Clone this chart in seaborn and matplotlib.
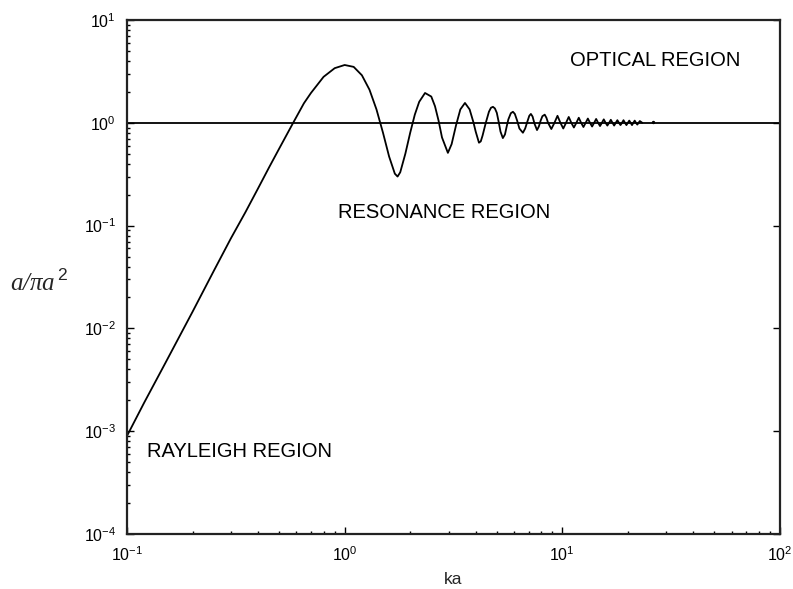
import matplotlib
matplotlib.use("Agg")
import matplotlib.pyplot as plt
import seaborn as sns
import pandas as pd
from matplotlib.ticker import LogLocator, NullFormatter

# ---- data ----
ka = [0.10, 0.12, 0.15, 0.20, 0.25, 0.30, 0.35, 0.40, 0.45, 0.50, 0.58, 0.65, 0.70,
      0.80, 0.90, 1.00, 1.10, 1.20, 1.30, 1.40, 1.50, 1.60, 1.70, 1.75, 1.80, 1.90,
      2.00, 2.10, 2.20, 2.34, 2.50, 2.60, 2.70, 2.80, 2.98, 3.10, 3.25, 3.40, 3.57,
      3.75, 3.90, 4.00, 4.14, 4.22, 4.30, 4.45, 4.60, 4.70, 4.80, 4.90, 5.00, 5.10,
      5.20, 5.33, 5.45, 5.55, 5.65, 5.80, 5.93, 6.05, 6.20, 6.35, 6.59, 6.75, 6.90,
      7.05, 7.17, 7.30, 7.45, 7.65, 7.80, 7.95, 8.10, 8.30, 8.45, 8.60,
      8.90, 9.20, 9.50, 9.80, 10.1, 10.4, 10.7, 11.0, 11.3, 11.6, 11.9, 12.2,
      12.5, 12.8, 13.1, 13.4, 13.7, 14.0, 14.3, 14.6, 14.9, 15.2, 15.5, 15.8, 16.1,
      16.4, 16.7, 17.0, 17.3, 17.6, 17.9, 18.2, 18.5, 18.8, 19.1, 19.4, 19.7, 20.0,
      20.3, 20.6, 20.9, 21.2, 21.5, 21.8, 22.1, 22.4, 22.7, 23.3]
rcs = [0.0009, 0.0019, 0.0046, 0.0145, 0.036, 0.075, 0.135, 0.23, 0.37, 0.56, 1.00,
       1.55, 1.95, 2.80, 3.40, 3.65, 3.50, 2.90, 2.10, 1.35, 0.80, 0.47, 0.32, 0.30,
       0.33, 0.50, 0.80, 1.20, 1.60, 1.95, 1.80, 1.45, 1.05, 0.72, 0.51, 0.62, 0.95,
       1.35, 1.56, 1.35, 1.02, 0.82, 0.64, 0.66, 0.75, 1.00, 1.28, 1.40, 1.43, 1.38,
       1.25, 1.02, 0.82, 0.71, 0.77, 0.92, 1.08, 1.24, 1.28, 1.22, 1.05, 0.88, 0.80,
       0.88, 1.02, 1.17, 1.22, 1.15, 0.98, 0.85, 0.92, 1.05, 1.16, 1.20, 1.12, 1.00,
       0.87, 1.00, 1.17, 1.00, 0.88, 1.00, 1.14, 1.00, 0.90, 1.00,
       1.12, 1.00, 0.91, 1.00, 1.10, 1.00, 0.92, 1.00, 1.09, 1.00, 0.93, 1.00, 1.08,
       1.00, 0.94, 1.00, 1.07, 1.00, 0.94, 1.00, 1.06, 1.00, 0.95, 1.00, 1.06, 1.00,
       0.95, 1.00, 1.05, 1.00, 0.95, 1.00, 1.05, 1.00, 0.96, 1.00, 1.04, 1.00]
stray_ka = [26.0]
stray_rcs = [1.02]

x_ticks = [0.1, 1, 10, 100]
x_tick_labels = ["$10^{-1}$", "$10^{0}$", "$10^{1}$", "$10^{2}$"]
y_ticks = [1e-4, 1e-3, 1e-2, 1e-1, 1, 10]
y_tick_labels = ["$10^{-4}$", "$10^{-3}$", "$10^{-2}$", "$10^{-1}$", "$10^{0}$", "$10^{1}$"]

region_labels = ["OPTICAL REGION", "RESONANCE REGION", "RAYLEIGH REGION"]
region_x = [10.8, 0.93, 0.1236]
region_y = [4.0, 0.134, 0.00064]

df = pd.DataFrame({"ka": ka, "rcs": rcs})

sns.set_style("ticks")
plt.rcParams["font.family"] = ["Liberation Sans", "DejaVu Sans"]
plt.rcParams["mathtext.fontset"] = "custom"
plt.rcParams["mathtext.rm"] = "Liberation Sans"
plt.rcParams["mathtext.it"] = "Liberation Sans:italic"

fig, ax = plt.subplots(figsize=(7.93, 5.89), dpi=100)
fig.subplots_adjust(left=127/793, right=780/793, top=1-20/589, bottom=1-534/589)

sns.lineplot(data=df, x="ka", y="rcs", ax=ax, color="black", lw=1.3,
             sort=False, estimator=None)
ax.scatter(stray_ka, stray_rcs, s=2, color="black", zorder=3)
ax.axhline(1.0, color="black", lw=1.3)

ax.set_xscale("log")
ax.set_yscale("log")
ax.set_xlim(0.1, 100)
ax.set_ylim(1e-4, 10)

ax.set_xticks(x_ticks)
ax.set_xticklabels(x_tick_labels)
ax.set_yticks(y_ticks)
ax.set_yticklabels(y_tick_labels)
ax.xaxis.set_minor_locator(LogLocator(base=10, subs=range(2, 10)))
ax.yaxis.set_minor_locator(LogLocator(base=10, subs=range(2, 10)))
ax.xaxis.set_minor_formatter(NullFormatter())
ax.yaxis.set_minor_formatter(NullFormatter())

ax.tick_params(axis="both", which="major", direction="in", length=5, width=1,
               colors="black", pad=8)
ax.tick_params(axis="both", which="minor", direction="in", length=2, width=1,
               colors="black")
ax.tick_params(axis="y", which="major", right=True, left=True)
ax.tick_params(axis="x", which="minor", bottom=True)
ax.tick_params(axis="both", labelsize=11.5)

for s in ax.spines.values():
    s.set_visible(True)
    s.set_linewidth(1.6)
    s.set_color("#222222")

ax.set_xlabel("ka", fontsize=12.5, labelpad=6)
ax.set_ylabel("")
fig.text(0.013, 0.52, "a/πa$^{\\,2}$", fontsize=18, style="italic",
         family=["Liberation Serif", "DejaVu Serif"], ha="left", va="center")

for lab, xx, yy in zip(region_labels, region_x, region_y):
    ax.text(xx, yy, lab, fontsize=14.5, color="black", ha="left", va="center")

fig.savefig("out.png", dpi=100, facecolor="white")
